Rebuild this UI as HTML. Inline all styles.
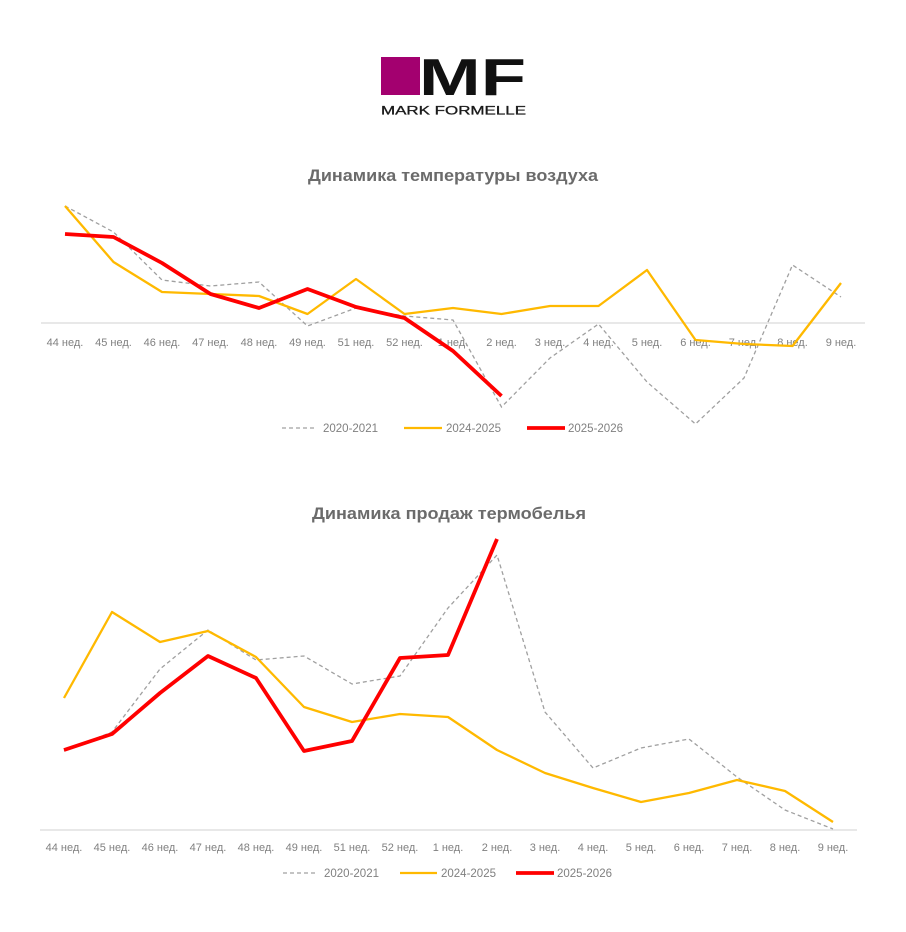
<!DOCTYPE html>
<html><head><meta charset="utf-8"><style>
html,body{margin:0;padding:0;background:#fff;}
svg{display:block;}
text{font-family:"Liberation Sans",sans-serif;}
</style></head><body>
<svg width="906" height="932" viewBox="0 0 906 932" xmlns="http://www.w3.org/2000/svg">
<!-- Logo -->
<rect x="381" y="57" width="39" height="38" fill="#a3006f"/>
<text x="419" y="95" font-size="52" font-weight="bold" fill="#111" textLength="107" lengthAdjust="spacingAndGlyphs">MF</text>
<text x="381" y="114.5" font-size="12" fill="#1a1a1a" stroke="#1a1a1a" stroke-width="0.3" textLength="145" lengthAdjust="spacingAndGlyphs">MARK FORMELLE</text>

<!-- Chart 1 -->
<text x="453" y="181" font-size="17" font-weight="bold" fill="#6b6b6b" text-anchor="middle" textLength="290" lengthAdjust="spacingAndGlyphs">Динамика температуры воздуха</text>
<line x1="41" y1="323" x2="865" y2="323" stroke="#d9d9d9" stroke-width="1.3"/>
<g font-size="11" fill="#808080" text-anchor="middle">
<text x="65" y="346">44 нед.</text><text x="113.5" y="346">45 нед.</text><text x="162" y="346">46 нед.</text><text x="210.5" y="346">47 нед.</text><text x="259" y="346">48 нед.</text><text x="307.5" y="346">49 нед.</text><text x="356" y="346">51 нед.</text><text x="404.5" y="346">52 нед.</text><text x="453" y="346">1 нед.</text><text x="501.5" y="346">2 нед.</text><text x="550" y="346">3 нед.</text><text x="598.5" y="346">4 нед.</text><text x="647" y="346">5 нед.</text><text x="695.5" y="346">6 нед.</text><text x="744" y="346">7 нед.</text><text x="792.5" y="346">8 нед.</text><text x="841" y="346">9 нед.</text>
</g>
<polyline fill="none" stroke="#a0a0a0" stroke-width="1.3" stroke-dasharray="4,3" points="65,206 113.5,232 162,280 210.5,286 259,282 307.5,326 356,308 404.5,316 453,320 501.5,407 550,358 598.5,324 647,382 695.5,424 744,378 792.5,265 841,297"/>
<polyline fill="none" stroke="#ffb900" stroke-width="2.3" stroke-linejoin="round" points="65,206 113.5,262 162,292 210.5,294 259,296 307.5,314 356,279 404.5,314 453,308 501.5,314 550,306 598.5,306 647,270 695.5,340 744,344 792.5,346 841,283"/>
<polyline fill="none" stroke="#ff0000" stroke-width="3.8" stroke-linejoin="round" points="65,234 113.5,237 162,263 210.5,294 259,308 307.5,289 356,307 404.5,318 453,351 501.5,396"/>
<g font-size="11.5" fill="#808080">
<line x1="282" y1="428" x2="316" y2="428" stroke="#a0a0a0" stroke-width="1.3" stroke-dasharray="4,3"/>
<text x="323" y="432">2020-2021</text>
<line x1="404" y1="428" x2="442" y2="428" stroke="#ffb900" stroke-width="2.3"/>
<text x="446" y="432">2024-2025</text>
<line x1="527" y1="428" x2="565" y2="428" stroke="#ff0000" stroke-width="3.8"/>
<text x="568" y="432">2025-2026</text>
</g>

<!-- Chart 2 -->
<text x="449" y="519" font-size="17" font-weight="bold" fill="#6b6b6b" text-anchor="middle" textLength="274" lengthAdjust="spacingAndGlyphs">Динамика продаж термобелья</text>
<line x1="40" y1="830" x2="857" y2="830" stroke="#d9d9d9" stroke-width="1.3"/>
<g font-size="11" fill="#808080" text-anchor="middle">
<text x="64" y="851">44 нед.</text><text x="112" y="851">45 нед.</text><text x="160" y="851">46 нед.</text><text x="208" y="851">47 нед.</text><text x="256" y="851">48 нед.</text><text x="304" y="851">49 нед.</text><text x="352" y="851">51 нед.</text><text x="400" y="851">52 нед.</text><text x="448" y="851">1 нед.</text><text x="497" y="851">2 нед.</text><text x="545" y="851">3 нед.</text><text x="593" y="851">4 нед.</text><text x="641" y="851">5 нед.</text><text x="689" y="851">6 нед.</text><text x="737" y="851">7 нед.</text><text x="785" y="851">8 нед.</text><text x="833" y="851">9 нед.</text>
</g>
<polyline fill="none" stroke="#a0a0a0" stroke-width="1.3" stroke-dasharray="4,3" points="64,751 112,732 160,669 208,630 256,660 304,656 352,684 400,676 448,608 497,555 545,712 593,768 641,748 689,739 737,777 785,810 833,829"/>
<polyline fill="none" stroke="#ffb900" stroke-width="2.3" stroke-linejoin="round" points="64,698 112,612 160,642 208,631 256,657 304,707 352,722 400,714 448,717 497,750 545,773 593,788 641,802 689,793 737,780 785,791 833,822"/>
<polyline fill="none" stroke="#ff0000" stroke-width="3.8" stroke-linejoin="round" points="64,750 112,734 160,693 208,656 256,678 304,751 352,741 400,658 448,655 497,539"/>
<g font-size="11.5" fill="#808080">
<line x1="283" y1="873" x2="317" y2="873" stroke="#a0a0a0" stroke-width="1.3" stroke-dasharray="4,3"/>
<text x="324" y="877">2020-2021</text>
<line x1="400" y1="873" x2="437" y2="873" stroke="#ffb900" stroke-width="2.3"/>
<text x="441" y="877">2024-2025</text>
<line x1="516" y1="873" x2="554" y2="873" stroke="#ff0000" stroke-width="3.8"/>
<text x="557" y="877">2025-2026</text>
</g>
</svg>
</body></html>
